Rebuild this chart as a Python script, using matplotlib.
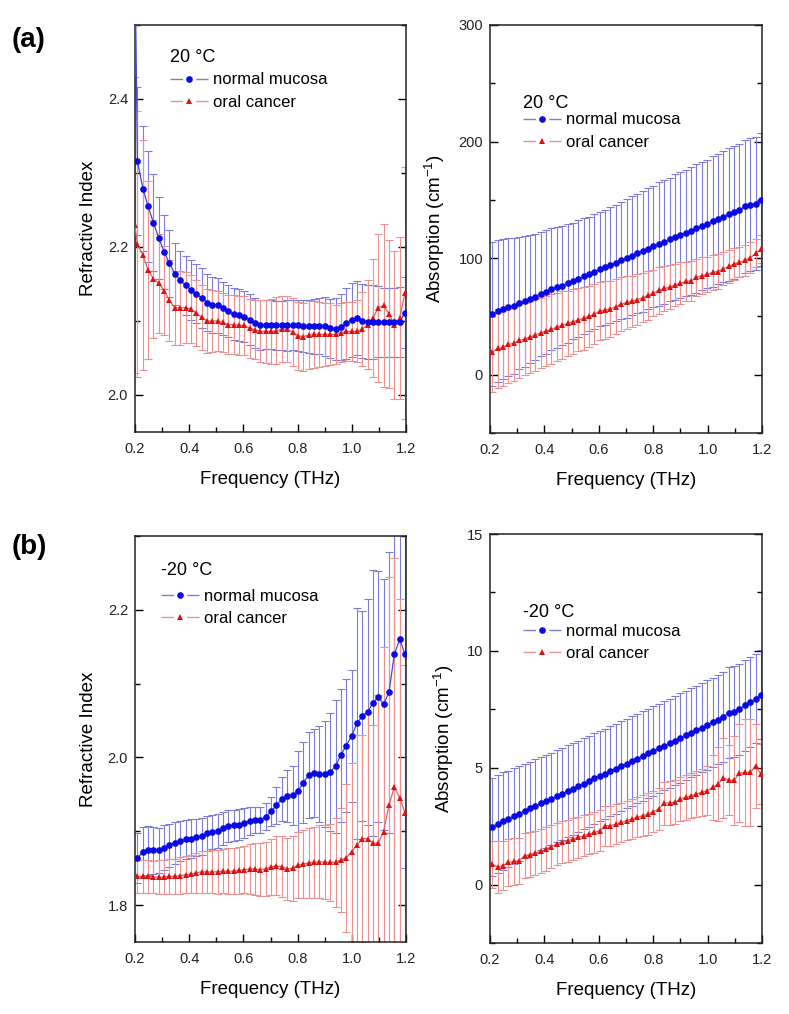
import matplotlib
matplotlib.use('Agg')
import matplotlib.pyplot as plt
from matplotlib.lines import Line2D
from matplotlib.ticker import MultipleLocator

plt.rcParams['font.family'] = ['Liberation Sans', 'DejaVu Sans']
plt.rcParams['mathtext.default'] = 'regular'

# frequency grid (THz), shared by all panels
freq = [0.209, 0.229, 0.248, 0.268, 0.288, 0.308, 0.327, 0.347, 0.367, 0.387,
        0.406, 0.426, 0.446, 0.466, 0.485, 0.505, 0.525, 0.545, 0.564, 0.584,
        0.604, 0.624, 0.643, 0.663, 0.683, 0.703, 0.722, 0.742, 0.762, 0.782,
        0.801, 0.821, 0.841, 0.861, 0.880, 0.900, 0.920, 0.940, 0.959, 0.979,
        0.999, 1.019, 1.038, 1.058, 1.078, 1.098, 1.117, 1.137, 1.157, 1.177,
        1.196]
# refractive index at 20 C starts one point earlier (off the top of the axes)
freq_ri_20 = [0.199] + freq

# (a) refractive index, 20 C
ri20_normal = [2.620, 2.316, 2.279, 2.255, 2.233, 2.212, 2.193, 2.178, 2.164, 2.155,
               2.148, 2.142, 2.137, 2.131, 2.125, 2.122, 2.121, 2.117, 2.113, 2.109,
               2.108, 2.106, 2.102, 2.097, 2.095, 2.095, 2.095, 2.094, 2.094, 2.094,
               2.095, 2.094, 2.093, 2.093, 2.093, 2.093, 2.093, 2.090, 2.089, 2.092,
               2.097, 2.102, 2.104, 2.100, 2.099, 2.099, 2.099, 2.098, 2.098, 2.098,
               2.099, 2.111]
ri20_normal_err = [0.120, 0.100, 0.085, 0.075, 0.065, 0.055, 0.050, 0.045, 0.042, 0.040,
                   0.040, 0.040, 0.040, 0.040, 0.039, 0.038, 0.037, 0.036, 0.035, 0.035,
                   0.035, 0.035, 0.034, 0.034, 0.034, 0.033, 0.033, 0.033, 0.033, 0.034,
                   0.034, 0.035, 0.035, 0.036, 0.037, 0.038, 0.040, 0.040, 0.042, 0.045,
                   0.048, 0.050, 0.050, 0.050, 0.050, 0.050, 0.048, 0.047, 0.047, 0.047,
                   0.047, 0.048]
ri20_cancer = [2.230, 2.204, 2.189, 2.169, 2.157, 2.151, 2.141, 2.128, 2.118, 2.118,
               2.118, 2.116, 2.111, 2.105, 2.100, 2.100, 2.100, 2.098, 2.095, 2.095,
               2.094, 2.094, 2.090, 2.088, 2.086, 2.086, 2.086, 2.087, 2.089, 2.089,
               2.085, 2.080, 2.079, 2.081, 2.082, 2.082, 2.082, 2.082, 2.082, 2.084,
               2.086, 2.086, 2.086, 2.089, 2.095, 2.104, 2.118, 2.121, 2.110, 2.095,
               2.104, 2.138]
ri20_cancer_err = [0.200, 0.180, 0.155, 0.120, 0.080, 0.067, 0.060, 0.055, 0.050, 0.050,
                   0.048, 0.046, 0.045, 0.044, 0.043, 0.042, 0.041, 0.040, 0.040, 0.040,
                   0.040, 0.040, 0.040, 0.040, 0.042, 0.043, 0.044, 0.045, 0.045, 0.045,
                   0.046, 0.046, 0.046, 0.046, 0.045, 0.044, 0.043, 0.042, 0.040, 0.040,
                   0.040, 0.040, 0.042, 0.050, 0.060, 0.080, 0.100, 0.110, 0.100, 0.100,
                   0.110, 0.170]

# (a) absorption, 20 C
ab20_normal = [52.0, 54.5, 56.5, 58.0, 59.0, 61.5, 63.0, 65.0, 67.0, 69.0,
               71.0, 73.5, 75.0, 76.5, 78.5, 80.5, 82.5, 84.5, 86.5, 88.5,
               90.5, 92.0, 94.0, 96.0, 98.0, 100.0, 102.0, 104.0, 106.0, 108.0,
               110.0, 112.0, 114.0, 116.0, 118.0, 120.0, 121.5, 123.5, 125.5, 127.5,
               129.5, 131.5, 133.5, 135.5, 137.5, 139.5, 141.0, 144.5, 146.0, 146.5,
               150.0]
ab20_normal_err = [62, 61, 60, 59, 58, 57, 56, 55, 54, 53,
                   53, 52, 52, 51, 51, 50, 50, 50, 49, 49,
                   49, 49, 50, 50, 50, 51, 51, 51, 52, 52,
                   52, 53, 53, 53, 54, 54, 54, 55, 55, 55,
                   55, 56, 56, 56, 57, 57, 57, 57, 57, 57,
                   57]
ab20_cancer = [19.5, 22.5, 23.5, 26.0, 27.0, 29.5, 30.5, 32.5, 34.0, 36.0,
               37.5, 39.0, 41.0, 42.5, 44.0, 45.5, 47.0, 48.5, 50.0, 52.0,
               54.5, 55.5, 56.5, 58.5, 60.5, 62.0, 63.0, 64.5, 66.0, 68.0,
               70.0, 72.5, 74.0, 75.0, 77.0, 78.5, 80.0, 80.5, 83.5, 85.0,
               86.0, 88.0, 88.5, 91.0, 93.0, 95.0, 96.5, 98.0, 100.5, 104.0,
               107.5]
ab20_cancer_err = [34, 34, 33, 33, 32, 32, 31, 31, 31, 30,
                   30, 30, 29, 29, 28, 28, 27, 27, 26, 26,
                   25, 25, 24, 24, 23, 23, 22, 22, 21, 21,
                   20, 20, 19, 19, 18, 18, 17, 17, 16, 16,
                   15, 15, 15, 14, 14, 14, 13, 13, 13, 12,
                   12]

# (b) refractive index, -20 C
rim20_normal = [1.864, 1.872, 1.874, 1.874, 1.874, 1.878, 1.881, 1.884, 1.887, 1.889,
                1.890, 1.892, 1.893, 1.897, 1.899, 1.901, 1.904, 1.907, 1.908, 1.909,
                1.911, 1.914, 1.915, 1.915, 1.920, 1.927, 1.935, 1.944, 1.948, 1.949,
                1.954, 1.966, 1.976, 1.979, 1.978, 1.978, 1.980, 1.988, 2.003, 2.016,
                2.029, 2.046, 2.056, 2.061, 2.074, 2.082, 2.072, 2.088, 2.140, 2.160,
                2.140]
rim20_normal_err = [0.034, 0.034, 0.033, 0.032, 0.031, 0.030, 0.029, 0.028, 0.027, 0.026,
                    0.026, 0.025, 0.025, 0.024, 0.023, 0.023, 0.022, 0.022, 0.021, 0.021,
                    0.020, 0.019, 0.018, 0.018, 0.018, 0.020, 0.025, 0.030, 0.035, 0.040,
                    0.055, 0.055, 0.058, 0.060, 0.065, 0.072, 0.080, 0.090, 0.090, 0.090,
                    0.090, 0.157, 0.142, 0.153, 0.180, 0.170, 0.170, 0.190, 0.420, 0.420,
                    0.290]
rim20_cancer = [1.839, 1.839, 1.839, 1.838, 1.838, 1.838, 1.839, 1.839, 1.840, 1.841,
                1.842, 1.844, 1.845, 1.845, 1.845, 1.845, 1.846, 1.846, 1.846, 1.847,
                1.848, 1.849, 1.849, 1.848, 1.849, 1.852, 1.853, 1.852, 1.849, 1.850,
                1.854, 1.856, 1.857, 1.858, 1.859, 1.858, 1.858, 1.858, 1.861, 1.864,
                1.872, 1.881, 1.890, 1.890, 1.884, 1.884, 1.899, 1.935, 1.960, 1.945,
                1.925]
rim20_cancer_err = [0.022, 0.022, 0.022, 0.022, 0.023, 0.023, 0.024, 0.024, 0.025, 0.025,
                    0.026, 0.027, 0.028, 0.028, 0.029, 0.030, 0.030, 0.031, 0.031, 0.032,
                    0.032, 0.034, 0.035, 0.036, 0.037, 0.038, 0.040, 0.041, 0.042, 0.044,
                    0.045, 0.046, 0.047, 0.048, 0.050, 0.050, 0.052, 0.060, 0.070, 0.100,
                    0.120, 0.150, 0.140, 0.170, 0.160, 0.200, 0.250, 0.310, 0.310, 0.270,
                    0.200]

# (b) absorption, -20 C
abm20_normal = [2.48, 2.60, 2.72, 2.82, 2.93, 3.04, 3.15, 3.26, 3.37, 3.48,
                3.56, 3.67, 3.78, 3.89, 4.00, 4.10, 4.20, 4.31, 4.42, 4.54,
                4.64, 4.74, 4.85, 4.96, 5.07, 5.18, 5.29, 5.39, 5.50, 5.61,
                5.72, 5.83, 5.94, 6.05, 6.16, 6.27, 6.39, 6.50, 6.60, 6.71,
                6.83, 6.94, 7.06, 7.18, 7.36, 7.40, 7.50, 7.68, 7.80, 7.96,
                8.12]
abm20_normal_err = [2.10, 2.10, 2.08, 2.06, 2.04, 2.02, 2.01, 2.00, 2.00, 1.99,
                    1.98, 1.98, 1.97, 1.97, 1.96, 1.96, 1.95, 1.95, 1.94, 1.94,
                    1.93, 1.93, 1.93, 1.92, 1.92, 1.92, 1.92, 1.91, 1.91, 1.91,
                    1.91, 1.91, 1.91, 1.91, 1.91, 1.91, 1.91, 1.91, 1.91, 1.91,
                    1.92, 1.92, 1.92, 1.93, 1.93, 1.94, 1.94, 1.95, 1.93, 1.92,
                    1.91]
abm20_cancer = [0.86, 0.75, 0.81, 0.95, 0.99, 1.02, 1.24, 1.27, 1.35, 1.42,
                1.52, 1.62, 1.74, 1.81, 1.88, 1.95, 2.02, 2.09, 2.16, 2.23,
                2.31, 2.52, 2.52, 2.59, 2.66, 2.74, 2.81, 2.88, 2.95, 3.02,
                3.12, 3.24, 3.49, 3.49, 3.52, 3.66, 3.73, 3.80, 3.88, 3.95,
                4.02, 4.16, 4.30, 4.56, 4.47, 4.47, 4.76, 4.80, 4.80, 5.08,
                4.73]
abm20_cancer_err = [1.00, 1.10, 1.05, 1.00, 1.00, 0.98, 0.97, 0.96, 0.95, 0.94,
                    0.93, 0.92, 0.91, 0.90, 0.90, 0.89, 0.88, 0.87, 0.87, 0.86,
                    0.86, 0.85, 0.85, 0.85, 0.85, 0.85, 0.85, 0.86, 0.87, 0.88,
                    0.89, 0.90, 0.92, 0.93, 0.94, 0.95, 0.96, 0.97, 0.98, 1.00,
                    1.05, 1.40, 1.60, 1.70, 1.50, 1.90, 2.10, 2.30, 2.30, 1.80,
                    1.30]

BLUE = '#0a0ae6'
BLUE_BAR = '#7c7cd6'
BLUE_LINE = '#4646dc'
RED = '#e01010'
RED_BAR = '#e89292'
RED_LINE = '#e06262'


def draw_panel(ax, fx_n, y_n, e_n, fx_c, y_c, e_c, ylim, major, minor, ylabel,
               temp, temp_xy, leg_xy):
    ax.errorbar(fx_n, y_n, yerr=e_n, fmt='none', ecolor=BLUE_BAR, elinewidth=0.8,
                capsize=3, capthick=0.8, zorder=2)
    ax.errorbar(fx_c, y_c, yerr=e_c, fmt='none', ecolor=RED_BAR, elinewidth=0.8,
                capsize=3, capthick=0.8, zorder=2)
    ax.plot(fx_c, y_c, '-', color=RED_LINE, lw=0.9, zorder=3)
    ax.plot(fx_c, y_c, '^', color=RED, ms=4.6, mew=0, zorder=4)
    ax.plot(fx_n, y_n, '-', color=BLUE_LINE, lw=0.9, zorder=3)
    ax.plot(fx_n, y_n, 'o', color=BLUE, ms=4.8, mew=0, zorder=4)

    ax.set_xlim(0.2, 1.2)
    ax.set_ylim(*ylim)
    ax.xaxis.set_major_locator(MultipleLocator(0.2))
    ax.xaxis.set_minor_locator(MultipleLocator(0.1))
    ax.yaxis.set_major_locator(MultipleLocator(major))
    ax.yaxis.set_minor_locator(MultipleLocator(minor))
    ax.xaxis.set_major_formatter(lambda v, p: f'{v:.1f}')
    ax.tick_params(which='both', direction='in', right=True, top=False, width=1.0,
                   labelsize=10.5, labelcolor='#222222')
    ax.tick_params(which='major', length=6)
    ax.tick_params(which='minor', length=3.5)
    ax.tick_params(axis='x', pad=7)
    ax.tick_params(axis='y', pad=5)
    for s in ax.spines.values():
        s.set_linewidth(1.1)
        s.set_color('#222222')
    ax.set_xlabel('Frequency (THz)', fontsize=13.5, labelpad=11)
    ax.set_ylabel(ylabel, fontsize=13.5, labelpad=8)

    ax.text(temp_xy[0], temp_xy[1], temp, transform=ax.transAxes, fontsize=13,
            ha='left', va='baseline')
    h_n = Line2D([], [], color=BLUE_BAR, lw=1, dashes=(9, 9.6),
                 marker='o', ms=4.8, mfc=BLUE, mec=BLUE, mew=0)
    h_c = Line2D([], [], color=RED_BAR, lw=1, dashes=(9, 9.6),
                 marker='^', ms=4.6, mfc=RED, mec=RED, mew=0)
    ax.legend([h_n, h_c], ['normal mucosa', 'oral cancer'],
              loc='center left', bbox_to_anchor=leg_xy, frameon=False,
              fontsize=12, handlelength=2.3, handletextpad=0.3, labelspacing=0.43,
              borderpad=0, borderaxespad=0)


fig = plt.figure(figsize=(7.89, 10.14), dpi=100)
W, H = 789, 1014
ax_a1 = fig.add_axes([135 / W, 1 - 432 / H, 271 / W, 407 / H])
ax_a2 = fig.add_axes([490 / W, 1 - 433 / H, 272 / W, 408 / H])
ax_b1 = fig.add_axes([135 / W, 1 - 942 / H, 271 / W, 406 / H])
ax_b2 = fig.add_axes([490 / W, 1 - 943 / H, 272 / W, 409 / H])

draw_panel(ax_a1, freq_ri_20, ri20_normal, ri20_normal_err,
           freq_ri_20, ri20_cancer, ri20_cancer_err,
           (1.95, 2.5), 0.2, 0.1, 'Refractive Index', '20 \u00b0C',
           (0.129, 0.909), (0.129, 0.838))
draw_panel(ax_a2, freq, ab20_normal, ab20_normal_err,
           freq, ab20_cancer, ab20_cancer_err,
           (-50, 300), 100, 50, 'Absorption (cm$^{-1}$)', '20 \u00b0C',
           (0.121, 0.797), (0.121, 0.740))
draw_panel(ax_b1, freq, rim20_normal, rim20_normal_err,
           freq, rim20_cancer, rim20_cancer_err,
           (1.75, 2.3), 0.2, 0.1, 'Refractive Index', '-20 \u00b0C',
           (0.096, 0.904), (0.096, 0.824))
draw_panel(ax_b2, freq, abm20_normal, abm20_normal_err,
           freq, abm20_cancer, abm20_cancer_err,
           (-2.5, 15), 5, 2.5, 'Absorption (cm$^{-1}$)', '-20 \u00b0C',
           (0.121, 0.797), (0.121, 0.735))

fig.text(12 / W, 1 - 40 / H, '(a)', fontsize=20, fontweight='bold', va='center', ha='left')
fig.text(12 / W, 1 - 547 / H, '(b)', fontsize=20, fontweight='bold', va='center', ha='left')

fig.savefig('out.png', dpi=100)
